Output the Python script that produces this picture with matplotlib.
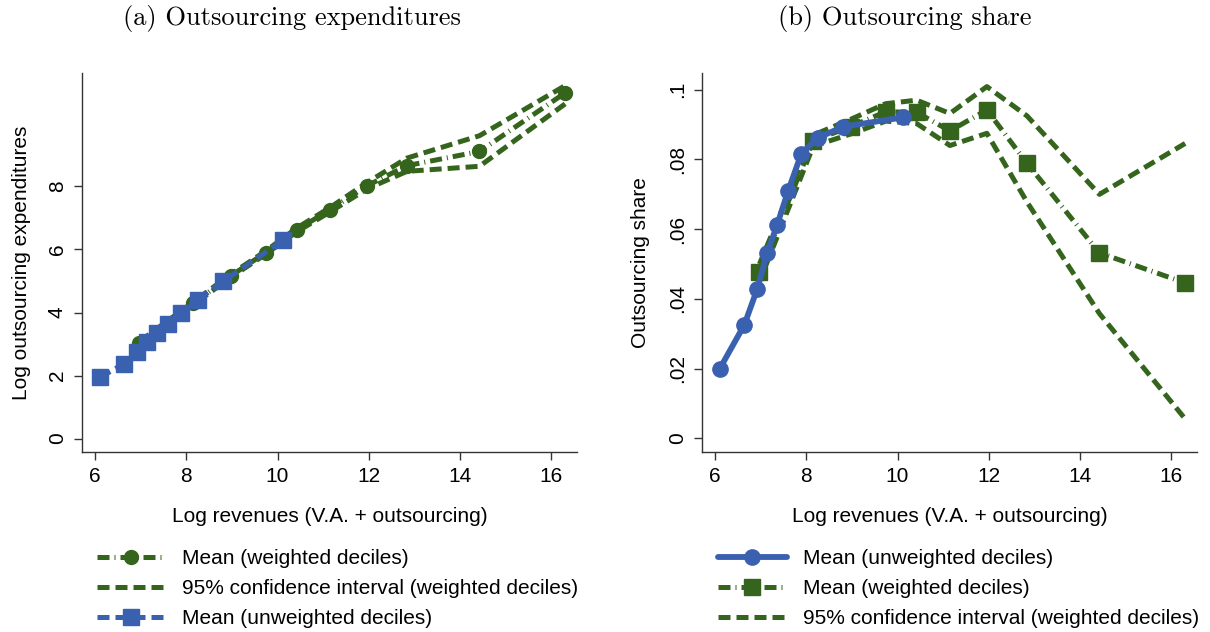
import matplotlib
matplotlib.use("Agg")
import matplotlib.pyplot as plt
from matplotlib.ticker import FixedLocator, FixedFormatter

# weighted deciles
w_x = [6.97, 8.15, 8.97, 9.74, 10.42, 11.15, 11.96, 12.84, 14.43, 16.31]
w_exp = [3.04, 4.29, 5.16, 5.90, 6.62, 7.26, 8.02, 8.66, 9.11, 10.97]
w_exp_hi = [3.08, 4.33, 5.21, 5.95, 6.68, 7.33, 8.12, 8.90, 9.61, 11.20]
w_exp_lo = [3.00, 4.25, 5.11, 5.85, 6.56, 7.19, 7.92, 8.48, 8.64, 10.62]
w_share = [0.0476, 0.0854, 0.0894, 0.0937, 0.0935, 0.0882, 0.0942, 0.0789, 0.0532, 0.0446]
w_share_hi = [0.0500, 0.0870, 0.0915, 0.0960, 0.0970, 0.0932, 0.1009, 0.0925, 0.0700, 0.0846]
w_share_lo = [0.0450, 0.0838, 0.0873, 0.0910, 0.0903, 0.0840, 0.0875, 0.0678, 0.0358, 0.0056]

# unweighted deciles
u_x = [6.10, 6.64, 6.92, 7.14, 7.36, 7.60, 7.89, 8.25, 8.81, 10.13]
u_exp = [1.94, 2.38, 2.74, 3.06, 3.36, 3.63, 3.97, 4.40, 4.99, 6.30]
u_share = [0.0200, 0.0326, 0.0428, 0.0532, 0.0613, 0.0710, 0.0817, 0.0862, 0.0894, 0.0921]

x_ticks = [6, 8, 10, 12, 14, 16]
exp_ticks = [0, 2, 4, 6, 8]
share_ticks = [0, 0.02, 0.04, 0.06, 0.08, 0.1]
share_labels = ["0", ".02", ".04", ".06", ".08", ".1"]

GREEN = "#35651d"
BLUE = "#3a60b0"
LW = 3.6
DASH = (2.4, 1.2)
DASHDOT = (2.4, 1.0, 0.2, 1.0)

plt.rcParams["font.family"] = ["Liberation Sans", "DejaVu Sans"]
plt.rcParams["font.size"] = 15

fig = plt.figure(figsize=(12.1, 6.32), dpi=100)
W, H = 1210, 632
ax1 = fig.add_axes([82 / W, 1 - 452 / H, (577 - 82) / W, (452 - 73) / H])
ax2 = fig.add_axes([702 / W, 1 - 452 / H, (1197 - 702) / W, (452 - 73) / H])


def style(ax):
    for s in ["top", "right"]:
        ax.spines[s].set_visible(False)
    for s in ["left", "bottom"]:
        ax.spines[s].set_color("#333333")
        ax.spines[s].set_linewidth(1.0)
    ax.tick_params(length=6, width=1.0, color="#333333", labelsize=15)
    ax.tick_params(axis="x", pad=5)
    ax.tick_params(axis="y", pad=5)
    ax.set_xlim(5.71, 16.57)
    ax.xaxis.set_major_locator(FixedLocator(x_ticks))
    ax.set_xlabel("Log revenues (V.A. + outsourcing)", labelpad=15)


# panel (a)
ci1, = ax1.plot(w_x, w_exp_hi, color=GREEN, lw=LW, dashes=DASH)
ax1.plot(w_x, w_exp_lo, color=GREEN, lw=LW, dashes=DASH)
m1, = ax1.plot(w_x, w_exp, color=GREEN, lw=LW, dashes=DASHDOT,
               marker="o", markersize=10)
u1, = ax1.plot(u_x, u_exp, color=BLUE, lw=LW, dashes=DASH,
               marker="s", markersize=11)
ax1.set_ylim(-0.426, 11.6)
ax1.yaxis.set_major_locator(FixedLocator(exp_ticks))
ax1.set_ylabel("Log outsourcing expenditures", labelpad=12)
style(ax1)
for lab in ax1.get_yticklabels():
    lab.set_rotation(90)
    lab.set_va("center")

# panel (b)
ci2, = ax2.plot(w_x, w_share_hi, color=GREEN, lw=LW, dashes=DASH)
ax2.plot(w_x, w_share_lo, color=GREEN, lw=LW, dashes=DASH)
m2, = ax2.plot(w_x, w_share, color=GREEN, lw=LW, dashes=DASHDOT,
               marker="s", markersize=11)
u2, = ax2.plot(u_x, u_share, color=BLUE, lw=LW + 0.6, solid_capstyle="round",
               marker="o", markersize=11)
ax2.set_ylim(-0.0039, 0.1048)
ax2.yaxis.set_major_locator(FixedLocator(share_ticks))
ax2.yaxis.set_major_formatter(FixedFormatter(share_labels))
ax2.set_ylabel("Outsourcing share", labelpad=13)
style(ax2)
for lab in ax2.get_yticklabels():
    lab.set_rotation(90)
    lab.set_va("center")

leg_kw = dict(loc="upper left", frameon=False, borderpad=0, borderaxespad=0,
              handlelength=3.3, handletextpad=0.8, labelspacing=0.53,
              fontsize=15)
fig.legend([m1, ci1, u1],
           ["Mean (weighted deciles)",
            "95% confidence interval (weighted deciles)",
            "Mean (unweighted deciles)"],
           bbox_to_anchor=(97 / W, 1 - 549 / H), **leg_kw)
fig.legend([u2, m2, ci2],
           ["Mean (unweighted deciles)",
            "Mean (weighted deciles)",
            "95% confidence interval (weighted deciles)"],
           bbox_to_anchor=(718 / W, 1 - 549 / H), **leg_kw)

fig.text(292 / W, 1 - 18 / H, "(a) Outsourcing expenditures",
         family="cmr10", fontsize=19, ha="center", va="center")
fig.text(905 / W, 1 - 18 / H, "(b) Outsourcing share",
         family="cmr10", fontsize=19, ha="center", va="center")

fig.savefig("out.png", dpi=100)
